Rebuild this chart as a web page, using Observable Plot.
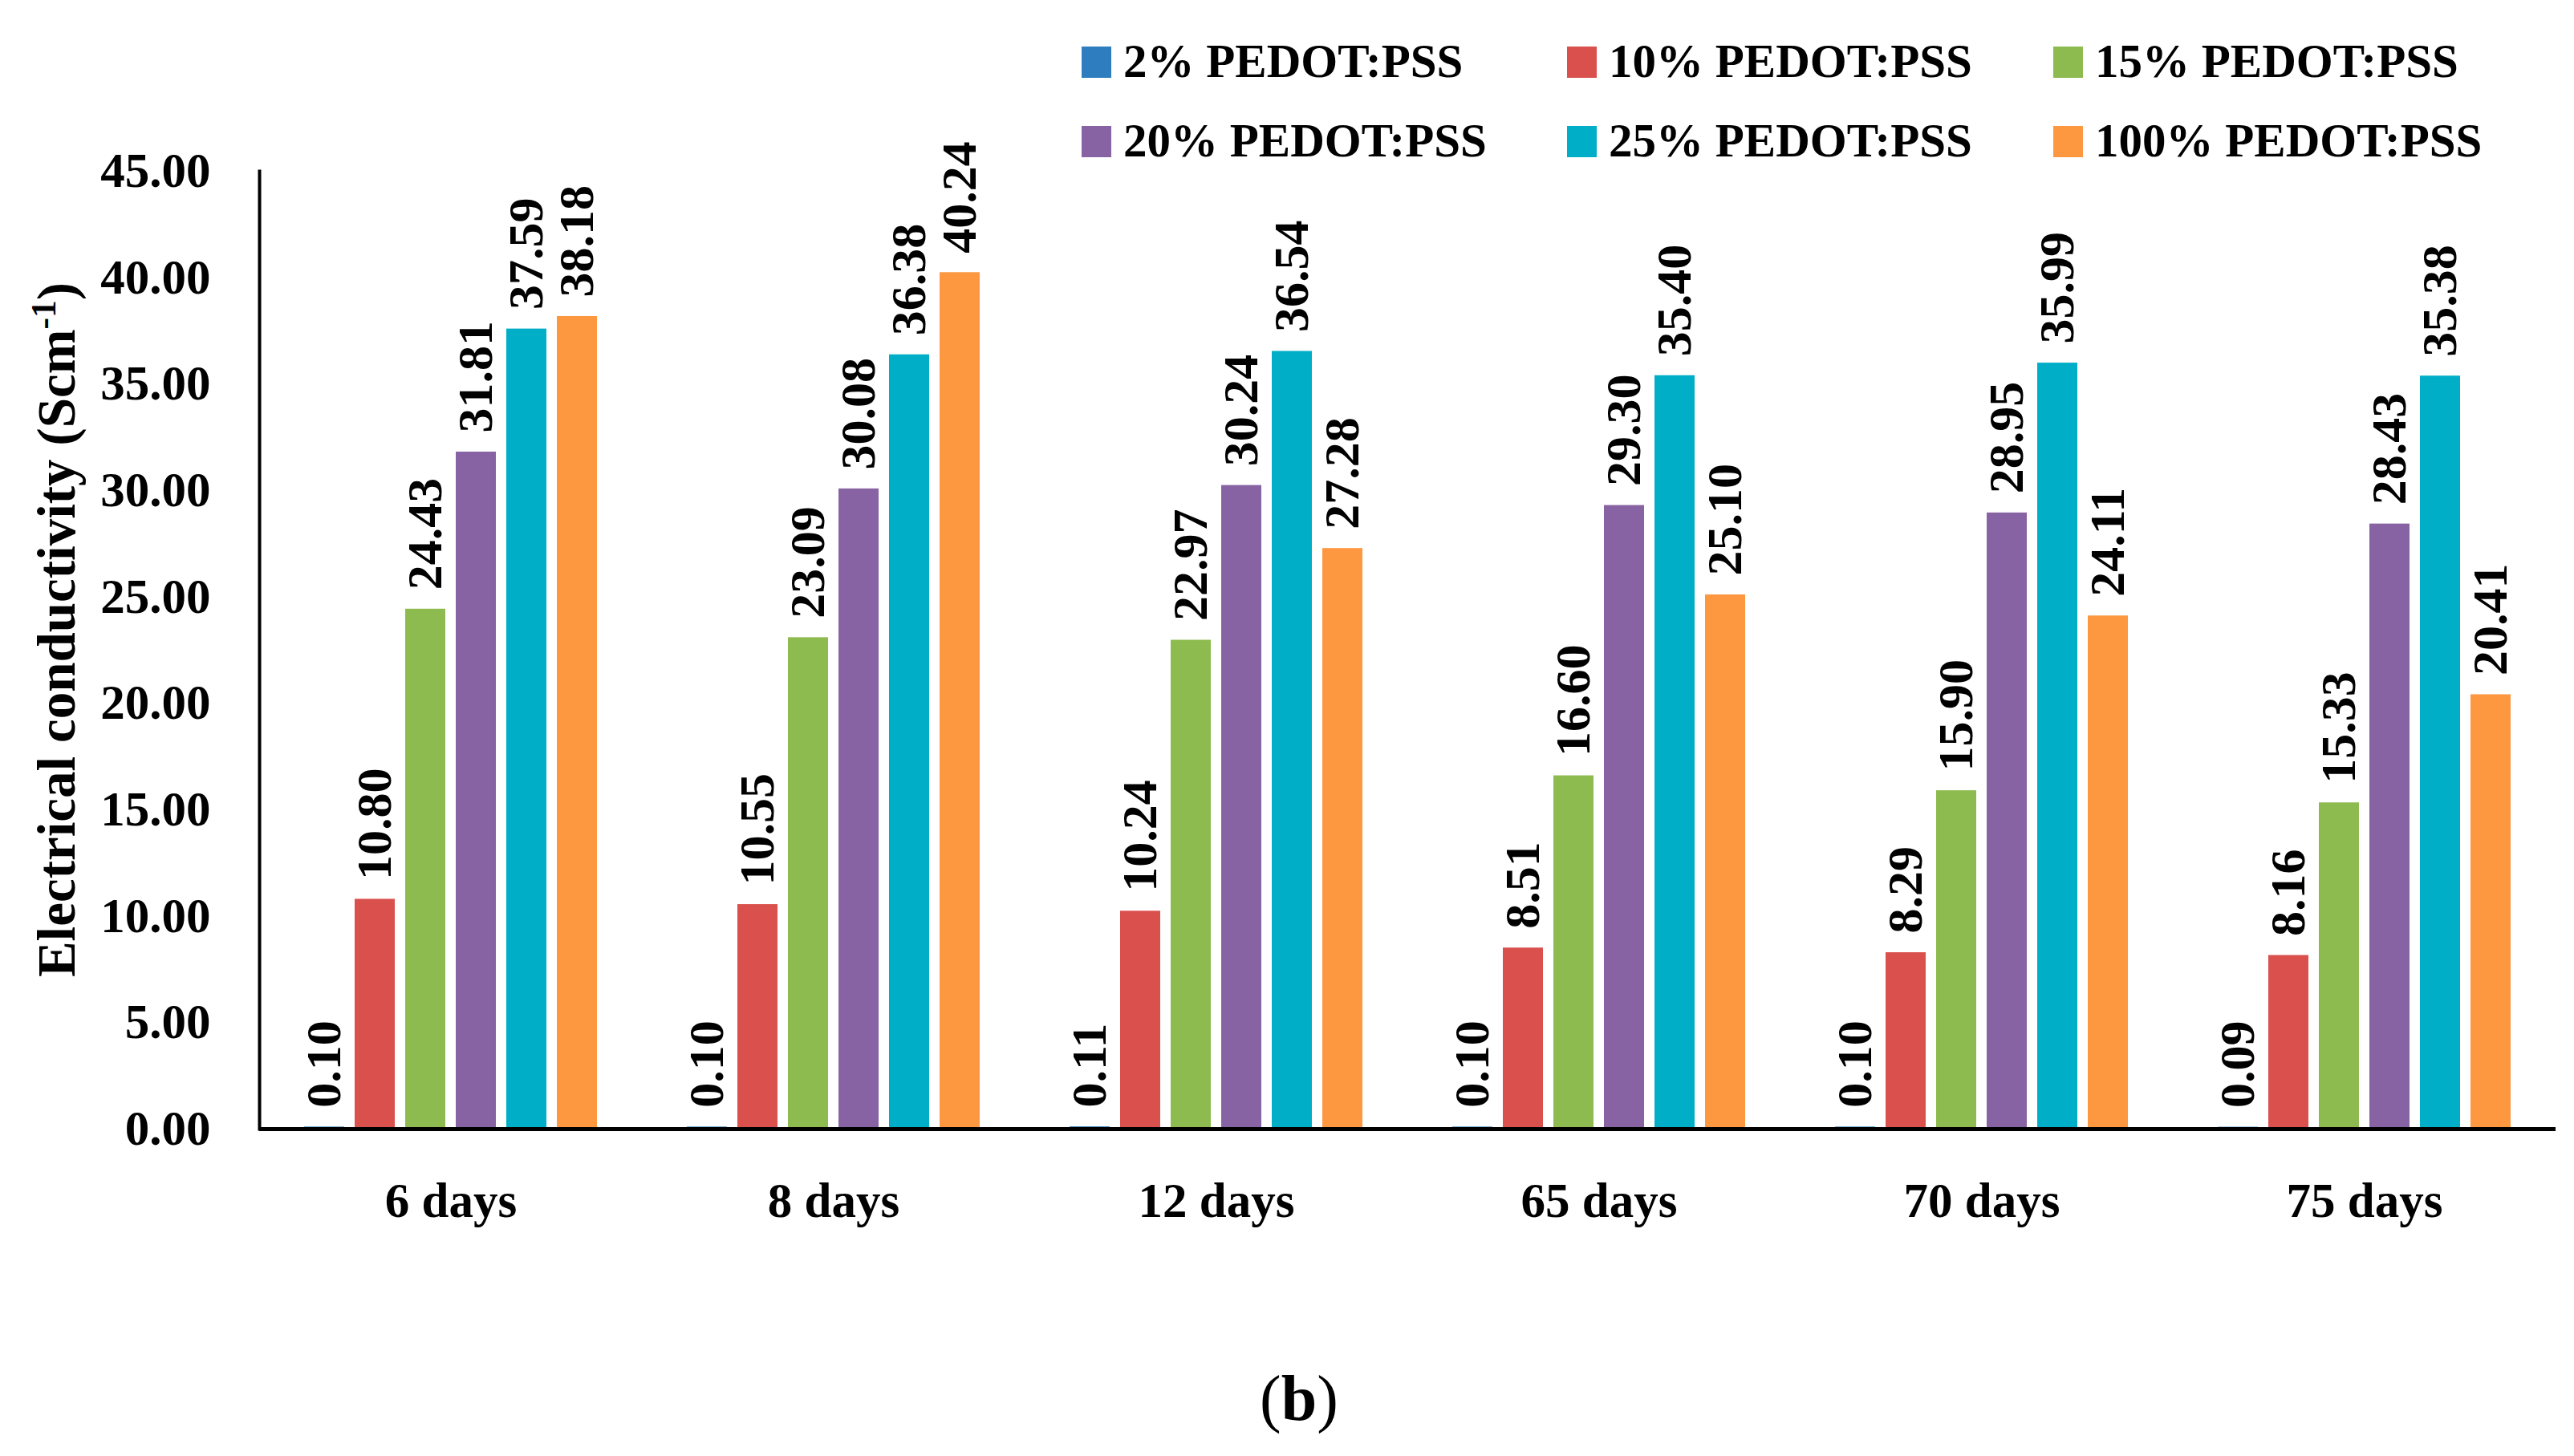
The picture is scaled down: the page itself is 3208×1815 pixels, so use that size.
<!DOCTYPE html>
<html>
<head>
<meta charset="utf-8">
<script src="https://cdn.jsdelivr.net/npm/d3@7"></script>
<script src="https://cdn.jsdelivr.net/npm/@observablehq/plot@0.6"></script>
<style>
  html, body { margin: 0; padding: 0; background: #fff; }
  body { position: relative; width: 3208px; height: 1815px; overflow: hidden;
         font-family: "Liberation Serif", "Times New Roman", serif; font-weight: bold; color: #000; }
  #chart { position: absolute; left: 0; top: 0; }
  .leg { position: absolute; font-size: 59px; line-height: 60px; white-space: nowrap; }
  .sw { position: absolute; width: 37px; height: 39px; }
  #ytitle { position: absolute; width: 1000px; height: 80px; line-height: 80px; font-size: 67px;
            text-align: center; white-space: nowrap; transform: rotate(-90deg); }
  #ytitle sup { font-size: 0.65em; line-height: 0; vertical-align: 0.55em; }
  #caption { position: absolute; width: 400px; text-align: center; font-size: 80px; line-height: 80px; }
  #caption span { font-weight: normal; }
</style>
</head>
<body>
<div id="chart"></div>
<div id="legend"></div>
<div id="ytitle">Electrical conductivity (Scm<sup>-1</sup>)</div>
<div id="caption"><span>(</span>b<span>)</span></div>
<script>
// ---- data ----
const days = ["6 days", "8 days", "12 days", "65 days", "70 days", "75 days"];
const series = ["2% PEDOT:PSS", "10% PEDOT:PSS", "15% PEDOT:PSS", "20% PEDOT:PSS", "25% PEDOT:PSS", "100% PEDOT:PSS"];
const pct2   = [0.10, 0.10, 0.11, 0.10, 0.10, 0.09];
const pct10  = [10.80, 10.55, 10.24, 8.51, 8.29, 8.16];
const pct15  = [24.43, 23.09, 22.97, 16.60, 15.90, 15.33];
const pct20  = [31.81, 30.08, 30.24, 29.30, 28.95, 28.43];
const pct25  = [37.59, 36.38, 36.54, 35.40, 35.99, 35.38];
const pct100 = [38.18, 40.24, 27.28, 25.10, 24.11, 20.41];
const yTicks = [0, 5, 10, 15, 20, 25, 30, 35, 40, 45];
const colors = ["#2e7dbe", "#d9504d", "#8ebb50", "#8863a4", "#00aec7", "#fd9840"];

const seriesValues = [pct2, pct10, pct15, pct20, pct25, pct100];
const table = [];
days.forEach((day, i) => {
  series.forEach((s, j) => {
    table.push({day, series: s, value: seriesValues[j][i]});
  });
});

// ---- chart ----
const H = 1600;
const chart = Plot.plot({
  width: 3208,
  height: H,
  marginLeft: 321,
  marginRight: 21,
  marginTop: 213,
  marginBottom: H - 1407,
  style: {fontFamily: "'Liberation Serif', 'Times New Roman', serif", fontSize: "61px", fontWeight: "bold", color: "#000", background: "transparent", overflow: "visible"},
  fx: {domain: days, padding: 0, axis: "bottom", tickSize: 0, tickPadding: 66, label: null},
  x: {domain: series, paddingInner: 0.2, paddingOuter: 0.87, axis: null},
  y: {domain: [0, 45], ticks: yTicks, tickFormat: d3.format(".2f"), tickSize: 0, tickPadding: 61, label: null},
  color: {domain: series, range: colors},
  marks: [
    Plot.barY(table, {fx: "day", x: "series", y: "value", fill: "series"}),
    Plot.text(table, {
      fx: "day", x: "series", y: "value",
      text: d => d.value.toFixed(2),
      rotate: -90, textAnchor: "start", lineAnchor: "middle",
      dy: -24, fontSize: 62, fontWeight: "bold", fill: "#000"
    }),
    Plot.ruleY([0], {stroke: "#000", strokeWidth: 5}),
    Plot.frame({anchor: "left", facetAnchor: "left", stroke: "#000", strokeWidth: 4})
  ]
});
document.getElementById("chart").appendChild(chart);

// ---- legend ----
const legend = document.getElementById("legend");
const colX = [1348, 1953, 2559];
const rowTop = [58, 157];
series.forEach((s, k) => {
  const col = k % 3, row = Math.floor(k / 3);
  const sw = document.createElement("div");
  sw.className = "sw";
  sw.style.left = colX[col] + "px";
  sw.style.top = rowTop[row] + "px";
  sw.style.background = colors[k];
  legend.appendChild(sw);
  const t = document.createElement("div");
  t.className = "leg";
  t.textContent = s;
  t.style.left = (colX[col] + 52) + "px";
  t.style.top = (rowTop[row] - 12) + "px";
  legend.appendChild(t);
});

// ---- y title & caption placement ----
const yt = document.getElementById("ytitle");
yt.style.left = (70 - 500) + "px";
yt.style.top = (785 - 40) + "px";
const cap = document.getElementById("caption");
cap.style.left = (1619 - 200) + "px";
cap.style.top = "1703px";
</script>
</body>
</html>
